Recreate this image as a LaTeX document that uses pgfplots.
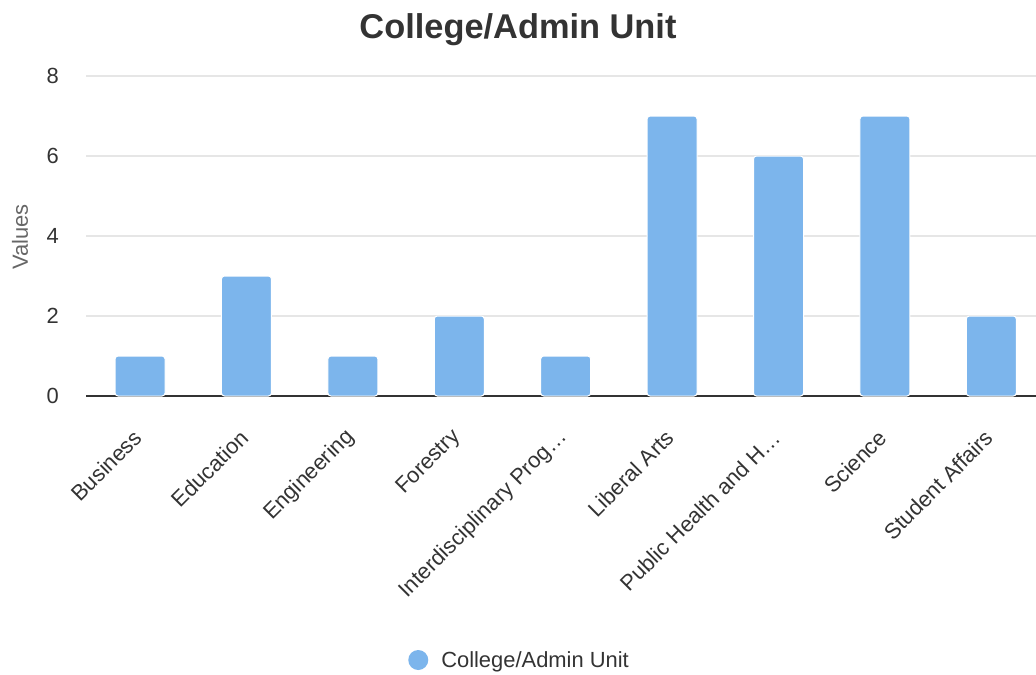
\documentclass[border=0pt]{standalone}
\usepackage{pgfplots}
\pgfplotsset{compat=1.18}
\usepackage{fontspec}
\setmainfont{Liberation Sans}
\definecolor{barblue}{HTML}{7CB5EC}
\definecolor{txt}{HTML}{333333}
\definecolor{gridc}{HTML}{E6E6E6}
\definecolor{lab}{HTML}{666666}
\begin{document}
\begin{tikzpicture}[x=1bp,y=1bp]
\path[use as bounding box] (0,0) rectangle (1036,-675);
\begin{axis}[
  at={(86bp,-396bp)}, anchor=south west,
  scale only axis, width=950bp, height=320bp,
  xmin=-0.508, xmax=8.42, ymin=0, ymax=8,
  axis lines=left,
  axis line style={-},
  y axis line style={draw=none},
  x axis line style={draw=txt, line width=1.3bp},
  major tick length=0pt,
  ytick={0,2,4,6,8},
  ymajorgrids, grid style={draw=gridc, line width=1.3bp},
  xtick={0,...,8},
  xticklabels={Business,Education,Engineering,Forestry,Interdisciplinary Prog…,Liberal Arts,Public Health and H…,Science,Student Affairs},
  /pgf/number format/assume math mode=true,
  yticklabel style={font=\fontsize{22}{26}\selectfont, color=txt, anchor=east, inner sep=0pt, xshift=-27bp},
  xticklabel style={font=\fontsize{22}{26}\selectfont, color=txt, anchor=east, inner sep=0pt, yshift=-38bp, xshift=-2bp, rotate=45},
  title={College/Admin Unit},
  title style={font=\bfseries\fontsize{34.5}{36}\selectfont, color=txt, at={(axis description cs:0.4547,1.097)}, anchor=base, inner sep=0pt},
  ylabel={Values},
  every axis y label/.style={at={(axis description cs:-0.0695,0.497)}, anchor=center, rotate=90, font=\fontsize{22}{26}\selectfont, color=lab, inner sep=0pt},
  legend style={at={(axis description cs:0.339,-0.825)}, anchor=west, draw=none, fill=none, inner sep=0pt, font=\fontsize{22}{26}\selectfont, text=txt},
  legend image code/.code={\fill[barblue, draw=none] (0bp,0bp) circle (10bp); \path[draw=none, fill=none] (-10bp,0bp) -- (21bp,0bp);},
  legend cell align=left,
]
\addplot[ybar, bar width=50bp, fill=barblue, draw=white, line width=1bp, rounded corners=3bp]
  coordinates {(0,1) (1,3) (2,1) (3,2) (4,1) (5,7) (6,6) (7,7) (8,2)};
\addlegendentry{College/Admin Unit}
\end{axis}
\end{tikzpicture}
\end{document}
